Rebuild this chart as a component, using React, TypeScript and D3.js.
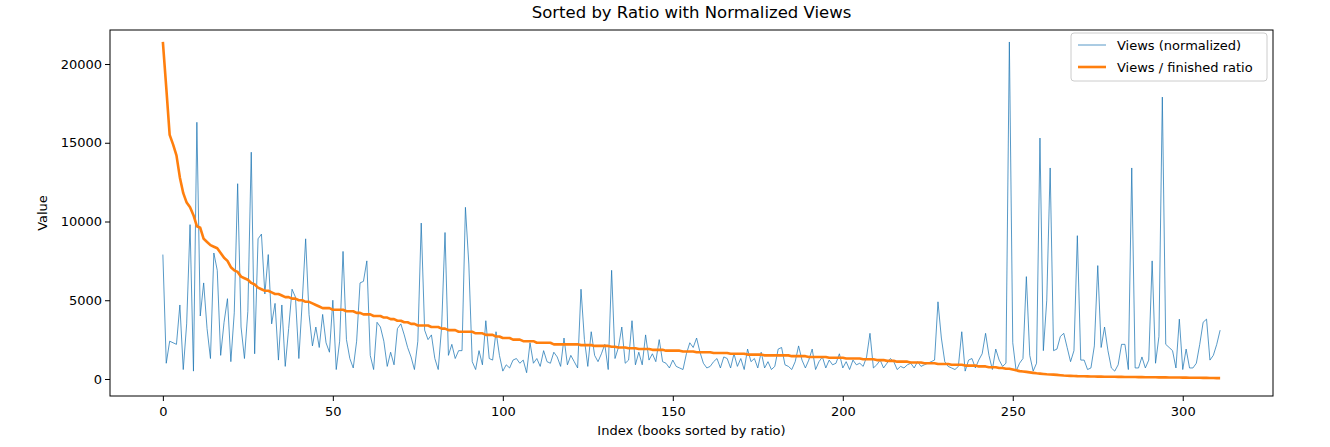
import { useEffect, useRef } from 'react';
import * as d3 from 'd3';

const views: number[] = [
  7900, 1000, 2400, 2300, 2200, 4700, 600, 3500, 9800, 500,
  16300, 4000, 6100, 3200, 1300, 8000, 6900, 1500, 3600, 5100,
  1100, 4200, 12400, 3300, 1300, 4300, 14400, 1600, 8900, 9200,
  5400, 7900, 3500, 4800, 1200, 4700, 800, 3200, 5700, 5200,
  1300, 4900, 8900, 4100, 2100, 3300, 2000, 4100, 2300, 1700,
  5000, 600, 2400, 8100, 2500, 1300, 700, 2400, 6100, 6200,
  7500, 1500, 600, 3600, 3300, 2400, 800, 1700, 900, 3200,
  3500, 2800, 2000, 1400, 600, 2400, 9900, 3100, 2500, 2800,
  1300, 600, 3300, 9300, 1500, 2200, 1300, 1800, 1800, 10900,
  7300, 1100, 600, 1800, 900, 3700, 1300, 1200, 3000, 1500,
  500, 900, 700, 1200, 1300, 1000, 1200, 400, 2300, 1000,
  1300, 800, 1800, 1100, 1000, 1700, 1400, 800, 2600, 900,
  1500, 1100, 700, 5700, 2500, 800, 3000, 1500, 1100, 1600,
  2200, 600, 6900, 1300, 2000, 3300, 1000, 1200, 3700, 900,
  1700, 900, 2800, 1200, 1600, 1100, 2500, 1100, 1000, 700,
  1200, 800, 700, 600, 1600, 2300, 2000, 2600, 1700, 1000,
  700, 800, 1100, 1300, 700, 1400, 1300, 700, 1600, 800,
  1300, 600, 1900, 1100, 1300, 700, 1700, 700, 1100, 600,
  800, 1900, 2000, 900, 800, 600, 1100, 2100, 1200, 700,
  1200, 1900, 600, 1100, 1400, 700, 1200, 900, 1000, 1600,
  700, 1100, 600, 1200, 900, 1000, 800, 1400, 2900, 700,
  900, 1200, 700, 1000, 1300, 1100, 600, 800, 700, 900,
  1000, 700, 1100, 800, 900, 1000, 1100, 1200, 4900, 2600,
  1100, 800, 700, 600, 800, 3000, 500, 1200, 1300, 700,
  1200, 1600, 2900, 1500, 600, 1900, 1200, 800, 1000, 21400,
  2300, 500, 1000, 1300, 6500, 1500, 500, 1000, 15300, 1800,
  5000, 13400, 1800, 1900, 2700, 2900, 2000, 1100, 1800, 9100,
  1200, 1200, 600, 700, 2100, 7200, 2000, 3300, 1800, 700,
  500, 900, 2200, 2200, 600, 13400, 700, 700, 1400, 700,
  1200, 7500, 1000, 2700, 17900, 2200, 2000, 1800, 700, 3800,
  600, 1900, 700, 700, 1000, 2200, 3600, 3800, 1200, 1500, 2200, 3100,
];

const ratio: number[] = [
  21400, 18500, 15500, 14900, 14200, 12800, 11800, 11200, 10900, 10400,
  9700, 9600, 8900, 8700, 8500, 8400, 8300, 8000, 7700, 7500,
  7100, 6900, 6800, 6500, 6400, 6300, 6100, 6000, 5800, 5700,
  5600, 5600, 5500, 5400, 5400, 5300, 5200, 5200, 5100, 5100,
  5000, 5000, 4900, 4900, 4800, 4700, 4600, 4500, 4500, 4500,
  4400, 4400, 4400, 4400, 4300, 4300, 4300, 4200, 4200, 4100,
  4100, 4100, 4000, 4000, 4000, 3900, 3900, 3800, 3800, 3700,
  3700, 3600, 3600, 3500, 3500, 3400, 3400, 3400, 3400, 3300,
  3300, 3300, 3200, 3200, 3100, 3100, 3100, 3000, 3000, 3000,
  3000, 3000, 2900, 2900, 2900, 2800, 2800, 2800, 2700, 2700,
  2600, 2600, 2600, 2500, 2500, 2500, 2400, 2400, 2400, 2400,
  2300, 2300, 2300, 2300, 2300, 2200, 2200, 2200, 2200, 2200,
  2200, 2200, 2200, 2150, 2150, 2150, 2150, 2100, 2100, 2100,
  2100, 2100, 2050, 2050, 2000, 2000, 2000, 1950, 1950, 1950,
  1900, 1900, 1900, 1900, 1850, 1850, 1850, 1850, 1800, 1800,
  1800, 1800, 1800, 1750, 1750, 1750, 1750, 1700, 1700, 1700,
  1700, 1700, 1650, 1650, 1650, 1650, 1650, 1600, 1600, 1600,
  1600, 1600, 1550, 1550, 1550, 1550, 1550, 1500, 1500, 1500,
  1500, 1500, 1500, 1500, 1500, 1450, 1450, 1450, 1450, 1450,
  1400, 1400, 1400, 1400, 1400, 1400, 1350, 1350, 1350, 1350,
  1350, 1300, 1300, 1300, 1300, 1300, 1250, 1250, 1250, 1250,
  1200, 1200, 1200, 1150, 1150, 1150, 1100, 1100, 1100, 1100,
  1050, 1050, 1050, 1050, 1000, 1000, 1000, 1000, 950, 950,
  950, 950, 900, 900, 900, 900, 850, 850, 850, 850,
  800, 800, 800, 750, 750, 750, 700, 700, 650, 650,
  600, 550, 500, 480, 450, 420, 390, 360, 340, 320,
  300, 290, 280, 260, 240, 220, 210, 200, 190, 180,
  175, 170, 165, 160, 155, 150, 148, 145, 142, 140,
  138, 135, 132, 130, 128, 125, 122, 120, 118, 115,
  112, 110, 108, 105, 102, 100, 98, 95, 92, 90,
  88, 85, 82, 80, 78, 75, 72, 70, 66, 62, 58, 55,
];

const xTicks = [0, 50, 100, 150, 200, 250, 300];
const yTicks = [0, 5000, 10000, 15000, 20000];

const W = 1330;
const H = 447;
const m = { left: 110, right: 1273, top: 30, bottom: 396 };
const font = '"DejaVu Sans", sans-serif';

export default function App() {
  const svgRef = useRef<SVGSVGElement>(null);

  useEffect(() => {
    document.body.style.margin = '0';
    const svg = d3.select(svgRef.current);
    svg.selectAll('*').remove();

    const n = views.length;
    const x = d3.scaleLinear().domain([-(n - 1) * 0.05, (n - 1) * 1.05]).range([m.left, m.right]);
    const y = d3.scaleLinear().domain([-1080, 22160]).range([m.bottom, m.top]);

    svg.append('text').attr('x', (m.left + m.right) / 2).attr('y', 18)
      .attr('text-anchor', 'middle').style('font-family', font).style('font-size', '16.5px')
      .text('Sorted by Ratio with Normalized Views');

    const line = d3.line<number>().x((_, i) => x(i)).y((d) => y(d));
    svg.append('path').datum(views).attr('d', line).attr('fill', 'none')
      .attr('stroke', '#1f77b4').attr('stroke-width', 0.75);
    svg.append('path').datum(ratio).attr('d', line).attr('fill', 'none')
      .attr('stroke', '#ff7f0e').attr('stroke-width', 2.6).attr('stroke-linejoin', 'round');

    svg.append('rect').attr('x', m.left).attr('y', m.top)
      .attr('width', m.right - m.left).attr('height', m.bottom - m.top)
      .attr('fill', 'none').attr('stroke', '#000').attr('stroke-width', 1);

    const xa = svg.append('g').attr('transform', `translate(0,${m.bottom})`)
      .call(d3.axisBottom(x).tickValues(xTicks).tickSize(5).tickFormat(d3.format('d')));
    const ya = svg.append('g').attr('transform', `translate(${m.left},0)`)
      .call(d3.axisLeft(y).tickValues(yTicks).tickSize(5).tickFormat(d3.format('d')));
    [xa, ya].forEach((a) => {
      a.select('.domain').remove();
      a.selectAll('text').style('font-family', font).style('font-size', '13px').attr('fill', '#000');
    });
    xa.selectAll('text').attr('dy', '0.9em');

    svg.append('text').attr('x', (m.left + m.right) / 2).attr('y', 435)
      .attr('text-anchor', 'middle').style('font-family', font).style('font-size', '13px')
      .text('Index (books sorted by ratio)');
    svg.append('text').attr('transform', `translate(47,${(m.top + m.bottom) / 2}) rotate(-90)`)
      .attr('text-anchor', 'middle').style('font-family', font).style('font-size', '13px')
      .text('Value');

    const lg = svg.append('g').attr('transform', 'translate(1071,33)');
    lg.append('rect').attr('width', 196).attr('height', 48).attr('rx', 3)
      .attr('fill', '#fff').attr('fill-opacity', 0.8).attr('stroke', '#ccc');
    const items = [
      { label: 'Views (normalized)', color: '#1f77b4', w: 0.75 },
      { label: 'Views / finished ratio', color: '#ff7f0e', w: 2.6 },
    ];
    items.forEach((it, i) => {
      const gy = 12 + i * 22;
      lg.append('line').attr('x1', 7).attr('x2', 35).attr('y1', gy).attr('y2', gy)
        .attr('stroke', it.color).attr('stroke-width', it.w);
      lg.append('text').attr('x', 46).attr('y', gy + 5).style('font-family', font)
        .style('font-size', '13px').text(it.label);
    });
  }, []);

  return <svg ref={svgRef} width={W} height={H} style={{ display: 'block', background: '#fff' }} />;
}
